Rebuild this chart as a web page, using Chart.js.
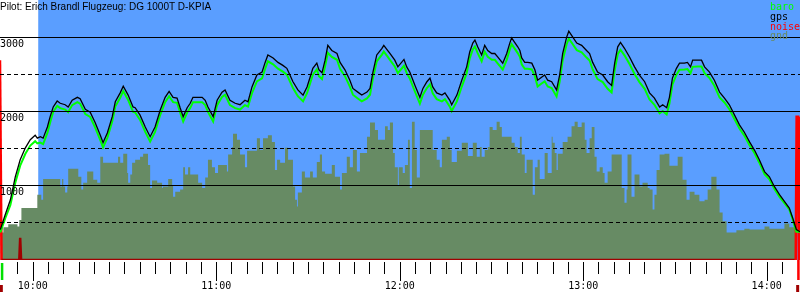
<!DOCTYPE html>
<html lang="de">
<head>
<meta charset="UTF-8">
<title>Barogramm DG 1000T D-KPIA</title>
<script src="https://cdn.jsdelivr.net/npm/chart.js"></script>
<style>
  html, body { margin: 0; padding: 0; background: #fff; }
  canvas { display: block; }
</style>
</head>
<body>
<canvas id="baro" width="800" height="300"></canvas>
<script>
// times are minutes after midnight
const titleText = 'Pilot: Erich Brandl Flugzeug: DG 1000T D-KPIA';
const legendOrder = ['baro', 'gps', 'noise', 'gnd'];

const times = [
  589.4, 591.0, 592.7, 594.3, 595.9, 597.6, 599.2, 600.8, 601.5, 602.5,
  603.4, 604.8, 605.7, 606.7, 608.0, 609.0, 610.6, 611.6, 612.9, 614.6,
  615.5, 617.2, 618.8, 620.4, 622.1, 623.0, 624.4, 626.0, 627.0, 628.6,
  629.6, 631.2, 632.8, 633.5, 635.1, 636.8, 638.4, 640.0, 641.7, 643.3,
  644.6, 645.9, 647.2, 648.2, 649.2, 650.5, 651.5, 652.4, 653.7, 655.4,
  656.4, 657.3, 659.0, 660.3, 661.9, 662.9, 664.5, 666.2, 667.8, 669.4,
  670.4, 671.7, 673.3, 675.0, 676.0, 676.9, 678.6, 680.2, 681.8, 683.1,
  684.1, 685.1, 686.7, 688.4, 689.7, 690.7, 691.6, 692.9, 693.6, 694.6,
  695.6, 696.5, 697.8, 699.5, 700.5, 702.1, 703.7, 704.7, 706.3, 707.6,
  709.3, 710.3, 711.2, 712.5, 714.2, 714.8, 716.1, 716.8, 718.4, 719.4,
  721.4, 722.3, 723.3, 725.0, 726.6, 727.6, 728.9, 729.9, 730.8, 732.1,
  733.8, 734.8, 736.4, 737.0, 738.7, 740.3, 741.9, 742.9, 743.9, 744.6,
  745.5, 746.8, 747.8, 748.8, 750.1, 751.1, 752.1, 753.7, 755.0, 756.0,
  756.6, 757.6, 758.6, 759.3, 759.9, 760.9, 761.9, 763.2, 764.2, 765.1,
  766.4, 767.4, 768.4, 769.7, 771.3, 772.3, 773.3, 774.6, 775.3, 776.6,
  777.9, 779.5, 781.1, 782.1, 783.1, 784.7, 786.4, 788.0, 789.3, 790.3,
  791.3, 792.2, 793.5, 795.2, 796.8, 798.4, 800.1, 801.7, 803.3, 805.0,
  806.0, 807.3, 808.2, 809.2, 810.5, 811.5, 813.1, 814.1, 815.1, 815.8,
  817.4, 818.7, 819.7, 821.3, 822.9, 824.6, 826.2, 827.8, 829.5, 831.1,
  832.7, 834.4, 836.0, 837.6, 839.3, 840.9, 842.5, 844.2, 845.8, 847.4,
  848.4, 849.7, 850.9
];
const gpsAlt = [
  410, 610, 810, 1120, 1350, 1510, 1620, 1680, 1640, 1660,
  1640, 1790, 1930, 2060, 2140, 2110, 2090, 2060, 2150, 2190,
  2170, 2030, 1990, 1850, 1680, 1580, 1710, 1930, 2130, 2250,
  2340, 2220, 2060, 2050, 1950, 1790, 1660, 1790, 2020, 2190,
  2270, 2190, 2180, 2050, 1930, 2050, 2110, 2190, 2190, 2190,
  2150, 2060, 1930, 2150, 2260, 2290, 2150, 2110, 2090, 2150,
  2130, 2330, 2490, 2530, 2660, 2760, 2720, 2660, 2620, 2580,
  2490, 2400, 2290, 2220, 2330, 2460, 2580, 2650, 2560, 2520,
  2690, 2890, 2820, 2780, 2660, 2560, 2420, 2310, 2260, 2220,
  2260, 2310, 2520, 2760, 2850, 2890, 2820, 2780, 2690, 2600,
  2700, 2600, 2530, 2350, 2190, 2310, 2400, 2450, 2330, 2250,
  2220, 2250, 2150, 2090, 2220, 2420, 2600, 2800, 2920, 2960,
  2870, 2760, 2890, 2820, 2780, 2780, 2730, 2650, 2780, 2920,
  2990, 2930, 2870, 2820, 2720, 2660, 2660, 2650, 2560, 2420,
  2460, 2490, 2420, 2400, 2290, 2490, 2780, 3000, 3080, 3000,
  2920, 2890, 2820, 2780, 2660, 2530, 2490, 2400, 2350, 2650,
  2870, 2930, 2850, 2730, 2600, 2490, 2400, 2250, 2180, 2060,
  2090, 2050, 2190, 2450, 2580, 2650, 2650, 2660, 2600, 2690,
  2690, 2690, 2600, 2530, 2420, 2260, 2180, 2090, 1950, 1820,
  1720, 1590, 1480, 1350, 1190, 1120, 990, 880, 790, 700,
  580, 410, 380
];
const baroAlt = [
  370, 560, 740, 1040, 1270, 1430, 1540, 1600, 1570, 1580,
  1560, 1710, 1850, 1995, 2075, 2045, 2025, 1990, 2085, 2125,
  2105, 1965, 1925, 1785, 1615, 1515, 1645, 1865, 2065, 2185,
  2275, 2155, 1995, 1985, 1885, 1725, 1595, 1725, 1955, 2125,
  2205, 2125, 2115, 1985, 1865, 1985, 2045, 2125, 2125, 2125,
  2085, 1995, 1865, 2085, 2195, 2225, 2085, 2045, 2025, 2085,
  2065, 2245, 2405, 2445, 2575, 2675, 2635, 2575, 2535, 2495,
  2405, 2315, 2205, 2135, 2245, 2375, 2495, 2565, 2475, 2435,
  2605, 2790, 2735, 2695, 2575, 2475, 2335, 2225, 2175, 2135,
  2175, 2225, 2435, 2675, 2765, 2805, 2735, 2695, 2605, 2515,
  2615, 2515, 2445, 2265, 2105, 2225, 2315, 2365, 2245, 2165,
  2135, 2165, 2065, 2005, 2135, 2335, 2515, 2715, 2835, 2875,
  2785, 2675, 2805, 2735, 2695, 2695, 2645, 2565, 2695, 2835,
  2905, 2845, 2785, 2735, 2635, 2575, 2575, 2565, 2475, 2335,
  2375, 2405, 2335, 2315, 2200, 2400, 2690, 2905, 2980, 2905,
  2825, 2795, 2725, 2685, 2565, 2435, 2395, 2305, 2255, 2555,
  2770, 2830, 2755, 2635, 2505, 2395, 2305, 2160, 2090, 1975,
  2005, 1960, 2105, 2365, 2495, 2560, 2565, 2570, 2515, 2600,
  2605, 2605, 2515, 2450, 2345, 2190, 2120, 2030, 1895, 1770,
  1675, 1545, 1440, 1310, 1155, 1085, 960, 850, 765, 680,
  560, 380, 380
];

const gndTimes = [
  589.4, 590.4, 592.0, 595.0, 595.6, 596.3, 601.5, 602.8, 603.4, 609.0,
  609.6, 610.0, 610.6, 611.3, 611.6, 614.9, 615.9, 616.5, 617.8, 619.8,
  621.1, 622.1, 623.0, 627.9, 628.6, 629.6, 630.9, 631.2, 631.9, 632.5,
  633.5, 635.1, 636.1, 637.7, 638.4, 639.0, 640.7, 642.3, 642.6, 644.3,
  645.6, 645.9, 646.6, 648.2, 649.2, 649.8, 650.8, 651.5, 654.1, 655.4,
  656.4, 657.3, 658.6, 659.6, 660.6, 663.5, 663.9, 665.2, 665.5, 666.8,
  667.8, 669.4, 670.1, 673.3, 674.3, 675.3, 676.9, 678.2, 679.2, 679.9,
  680.9, 682.5, 683.5, 685.1, 685.8, 686.4, 686.7, 688.0, 689.0, 690.7,
  691.6, 692.9, 693.9, 694.6, 695.6, 697.8, 698.8, 700.5, 701.1, 702.7,
  703.7, 704.7, 706.0, 707.0, 709.3, 710.3, 711.9, 712.9, 715.2, 716.1,
  716.8, 717.8, 718.4, 719.4, 719.7, 721.0, 721.7, 722.7, 723.3, 724.0,
  724.9, 725.6, 726.6, 730.8, 732.1, 733.1, 733.8, 735.4, 736.4, 737.0,
  738.7, 740.3, 742.3, 743.9, 745.2, 746.2, 746.8, 747.8, 748.8, 749.4,
  750.4, 751.7, 752.7, 753.4, 756.6, 757.6, 758.6, 759.3, 759.9, 760.9,
  761.5, 763.5, 764.2, 765.1, 765.8, 767.4, 768.4, 769.7, 770.0, 770.7,
  771.3, 771.7, 773.3, 774.9, 776.2, 777.2, 778.2, 779.5, 780.5, 781.1,
  782.1, 782.8, 783.7, 784.4, 785.4, 786.4, 787.0, 788.0, 789.3, 792.6,
  793.5, 794.2, 794.5, 795.8, 796.8, 798.4, 799.4, 801.1, 801.7, 802.7,
  803.3, 804.0, 805.0, 806.6, 808.2, 810.9, 812.5, 813.8, 814.8, 816.4,
  818.0, 819.7, 820.7, 821.9, 823.6, 824.6, 825.6, 826.9, 830.1, 832.7,
  834.4, 839.3, 840.9, 845.8, 847.4, 849.4
];
const gndAlt = [
  370, 440, 480, 450, 540, 700, 880, 810, 1090, 990,
  1090, 990, 910, 990, 1230, 1120, 950, 1040, 1190, 1080,
  1040, 1390, 1310, 1390, 1310, 1430, 1170, 1040, 1150, 1310,
  1350, 1390, 1430, 1280, 970, 1070, 1040, 970, 990, 1090,
  1010, 850, 920, 950, 1250, 1150, 1250, 1150, 1040, 970,
  1110, 1350, 1250, 1170, 1280, 1190, 1420, 1520, 1700, 1620,
  1420, 1250, 1470, 1640, 1480, 1640, 1680, 1590, 1210, 1350,
  1310, 1510, 1350, 990, 810, 720, 910, 1190, 1110, 1190,
  1110, 1320, 1420, 1190, 1160, 1280, 1120, 950, 1170, 1390,
  1250, 1480, 1190, 1440, 1660, 1850, 1750, 1620, 1800, 1750,
  1850, 1440, 1250, 1010, 1250, 1170, 1280, 1620, 970, 1860,
  1480, 1110, 1750, 1480, 1350, 1250, 1620, 1660, 1480, 1320,
  1470, 1580, 1400, 1580, 1390, 1520, 1390, 1480, 1520, 1790,
  1750, 1860, 1790, 1660, 1580, 1520, 1440, 1660, 1420, 1170,
  1350, 880, 1250, 1350, 1090, 1440, 1170, 1660, 1580, 1440,
  1210, 1430, 1590, 1660, 1800, 1860, 1790, 1850, 1620, 1440,
  1640, 1790, 1390, 1190, 1250, 1170, 1040, 1190, 1420, 970,
  770, 950, 1420, 850, 1150, 990, 1040, 970, 950, 680,
  880, 1210, 1420, 1430, 1270, 1390, 1080, 810, 920, 880,
  790, 810, 950, 1120, 950, 640, 520, 370, 400, 420,
  410, 450, 420, 490, 440, 440
];

const noiseTimes = [589.3, 589.6, 589.8, 595.6, 595.9, 596.2, 849.5, 849.8, 850.3, 850.5];
const noiseLevel = [2690, 2690, 0, 0, 300, 0, 0, 1930, 1930, 0];

const flightStart = 601.8;          // blue band from here on
const eventTimes = [589.9, 850.3];  // start / landing marks under the axis

const BLUE = 'rgb(90,158,255)';
const GND = 'rgb(103,139,100)';
const DARKRED = '#a00000';

function hhmm(v) {
  const h = Math.floor(v / 60);
  const m = Math.round(v - h * 60);
  return h + ':' + String(m).padStart(2, '0');
}

const pts = (xs, ys) => xs.map((t, i) => ({ x: t, y: ys[i] }));

const baroPlugin = {
  id: 'baroDeco',
  beforeDatasetsDraw(chart) {
    const { ctx, chartArea, scales: { x } } = chart;
    const left = x.getPixelForValue(flightStart);
    ctx.save();
    ctx.fillStyle = BLUE;
    ctx.fillRect(left, chartArea.top, chartArea.right - left, chartArea.bottom - chartArea.top);
    ctx.restore();
  },
  afterDraw(chart) {
    const { ctx, chartArea, scales: { x } } = chart;
    const bottom = chartArea.bottom;
    ctx.save();

    // 5 minute ticks, hours longer
    ctx.strokeStyle = '#000';
    ctx.lineWidth = 1;
    x.ticks.forEach(t => {
      if (t.value % 5 !== 0) return;
      const px = Math.round(x.getPixelForValue(t.value)) + 0.5;
      const len = t.value % 60 === 0 ? 19 : 12;
      ctx.beginPath();
      ctx.moveTo(px, bottom + 2);
      ctx.lineTo(px, bottom + 2 + len);
      ctx.stroke();
    });

    // start / landing marks
    eventTimes.forEach((t, i) => {
      const px = x.getPixelForValue(t);
      ctx.fillStyle = i === 0 ? '#00e000' : '#ff0000';
      ctx.fillRect(px - 1, i === 0 ? bottom + 3 : bottom, 2.5, i === 0 ? 17 : 20);
      ctx.fillStyle = DARKRED;
      ctx.fillRect(px - 2, bottom + 25, 3, 7);
    });

    // title
    ctx.fillStyle = '#000';
    ctx.font = '10px "Liberation Sans", Arial, sans-serif';
    ctx.textBaseline = 'alphabetic';
    ctx.textAlign = 'left';
    ctx.fillText(titleText, 0, 10);

    // legend
    ctx.font = '10px "DejaVu Sans Mono", monospace';
    legendOrder.forEach((name, i) => {
      const ds = chart.data.datasets.find(d => d.label === name);
      ctx.fillStyle = ds.legendColor;
      ctx.fillText(name, 770, 10 + i * 9.8);
    });
    ctx.restore();
  }
};

new Chart(document.getElementById('baro'), {
  type: 'line',
  data: {
    datasets: [
      {
        label: 'gps',
        data: pts(times, gpsAlt),
        borderColor: '#000',
        legendColor: '#000',
        borderWidth: 1.3,
        pointRadius: 0,
        tension: 0
      },
      {
        label: 'baro',
        data: pts(times, baroAlt),
        borderColor: '#00ff00',
        legendColor: '#00ff00',
        borderWidth: 2,
        pointRadius: 0,
        tension: 0
      },
      {
        label: 'noise',
        data: pts(noiseTimes, noiseLevel),
        borderColor: '#ff0000',
        legendColor: '#ff0000',
        borderWidth: 2.5,
        pointRadius: 0,
        tension: 0,
        segment: {
          borderColor: c => Math.max(c.p0.parsed.y, c.p1.parsed.y) > 1000 ? '#ff0000' : DARKRED
        }
      },
      {
        label: 'gnd',
        data: pts(gndTimes, gndAlt),
        borderColor: GND,
        backgroundColor: GND,
        legendColor: GND,
        borderWidth: 0,
        pointRadius: 0,
        stepped: true,
        fill: 'origin'
      }
    ]
  },
  options: {
    responsive: false,
    animation: false,
    layout: { padding: 0, autoPadding: false },
    plugins: {
      legend: { display: false },
      tooltip: { enabled: false },
      title: { display: false }
    },
    scales: {
      x: {
        type: 'linear',
        min: 589.3,
        max: 850.9,
        afterFit: s => { s.height = 40; s.paddingLeft = 0; s.paddingRight = 0; },
        border: { display: false },
        grid: { drawOnChartArea: false, drawTicks: false },
        ticks: {
          stepSize: 5,
          autoSkip: false,
          maxRotation: 0,
          padding: 20,
          color: '#000',
          font: { family: 'DejaVu Sans Mono', size: 10 },
          callback: v => v % 60 === 0 ? hhmm(v) : ''
        }
      },
      y: {
        min: 0,
        max: 3500,
        afterFit: s => { s.width = 0; s.paddingTop = 0; s.paddingBottom = 0; },
        border: {
          display: false,
          dash: c => (c.tick && c.tick.value % 1000 !== 0) ? [4, 3] : []
        },
        grid: {
          z: 1,
          drawTicks: false,
          lineWidth: 1,
          color: c => (c.tick && (c.tick.value === 0 || c.tick.value === 3500)) ? 'rgba(0,0,0,0)' : '#000'
        },
        ticks: {
          stepSize: 500,
          mirror: true,
          padding: 0,
          labelOffset: 7,
          z: 2,
          color: '#000',
          font: { family: 'DejaVu Sans Mono', size: 10 },
          callback: v => (v > 0 && v < 3500 && v % 1000 === 0) ? String(v) : ''
        }
      }
    }
  },
  plugins: [baroPlugin]
});
</script>
</body>
</html>
